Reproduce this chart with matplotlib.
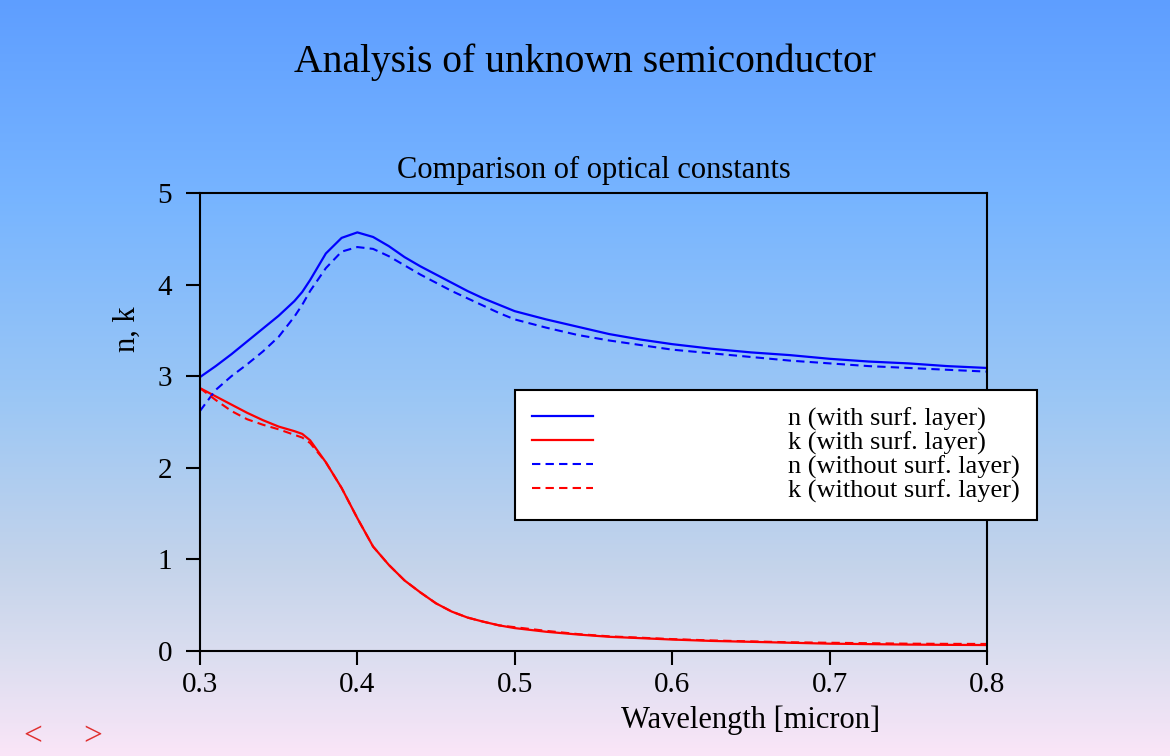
import numpy as np
import matplotlib
matplotlib.use('Agg')
import matplotlib.pyplot as plt
from matplotlib.colors import LinearSegmentedColormap

plt.rcParams['font.family'] = ['Liberation Serif', 'DejaVu Serif']

# wavelength grid [micron]
wavelength = [0.30, 0.31, 0.32, 0.33, 0.34, 0.35, 0.36, 0.365, 0.37, 0.38, 0.39,
              0.40, 0.41, 0.42, 0.43, 0.44, 0.45, 0.46, 0.47, 0.48, 0.49, 0.50,
              0.52, 0.54, 0.56, 0.58, 0.60, 0.625, 0.65, 0.675, 0.70, 0.725,
              0.75, 0.775, 0.80]

n_surf = [2.99, 3.11, 3.24, 3.38, 3.52, 3.66, 3.82, 3.92, 4.05, 4.34, 4.51,
          4.57, 4.52, 4.42, 4.30, 4.20, 4.11, 4.02, 3.93, 3.85, 3.78, 3.71,
          3.62, 3.54, 3.46, 3.40, 3.35, 3.30, 3.26, 3.23, 3.19, 3.16,
          3.14, 3.11, 3.09]
k_surf = [2.87, 2.78, 2.69, 2.60, 2.52, 2.45, 2.40, 2.37, 2.30, 2.06, 1.78,
          1.45, 1.14, 0.94, 0.77, 0.64, 0.52, 0.43, 0.365, 0.32, 0.28, 0.25,
          0.21, 0.18, 0.155, 0.14, 0.125, 0.11, 0.10, 0.09, 0.08, 0.075,
          0.07, 0.067, 0.065]
n_bare = [2.62, 2.85, 3.00, 3.13, 3.27, 3.43, 3.65, 3.78, 3.93, 4.18, 4.36,
          4.41, 4.39, 4.31, 4.21, 4.11, 4.02, 3.93, 3.85, 3.77, 3.69, 3.62,
          3.53, 3.45, 3.39, 3.34, 3.29, 3.25, 3.21, 3.17, 3.14, 3.11,
          3.09, 3.07, 3.05]
k_bare = [2.87, 2.74, 2.62, 2.53, 2.47, 2.42, 2.36, 2.33, 2.27, 2.06, 1.78,
          1.45, 1.14, 0.94, 0.77, 0.64, 0.52, 0.43, 0.365, 0.32, 0.28, 0.26,
          0.22, 0.185, 0.16, 0.145, 0.13, 0.115, 0.105, 0.095, 0.09, 0.085,
          0.08, 0.078, 0.077]

fig = plt.figure(figsize=(11.7, 7.56), dpi=100)

# gradient background, blue at top to pale pink at bottom
bg = fig.add_axes([0, 0, 1, 1], zorder=-10)
bg_cmap = LinearSegmentedColormap.from_list('bg', [
    (0.00, (0.37, 0.62, 1.00)),
    (0.27, (0.47, 0.71, 1.00)),
    (0.53, (0.61, 0.78, 0.96)),
    (0.75, (0.77, 0.83, 0.92)),
    (0.87, (0.86, 0.87, 0.94)),
    (1.00, (0.98, 0.90, 0.97)),
])
bg.imshow(np.linspace(0, 1, 256).reshape(-1, 1), aspect='auto', cmap=bg_cmap,
          extent=[0, 1, 0, 1])
bg.axis('off')

ax = fig.add_axes([0.1709, 0.1389, 0.6726, 0.6058])
ax.set_facecolor('none')

ax.plot(wavelength, n_surf, color='#0000ff', lw=1.6, label='n (with surf. layer)')
ax.plot(wavelength, k_surf, color='#ff0000', lw=1.6, label='k (with surf. layer)')
ax.plot(wavelength, n_bare, color='#0000ff', lw=1.5, ls=(0, (4, 2.5)),
        label='n (without surf. layer)')
ax.plot(wavelength, k_bare, color='#ff0000', lw=1.5, ls=(0, (4, 2.5)),
        label='k (without surf. layer)')

ax.set_xlim(0.3, 0.8)
ax.set_ylim(0, 5)
ax.set_xticks([0.3, 0.4, 0.5, 0.6, 0.7, 0.8])
ax.set_yticks([0, 1, 2, 3, 4, 5])
ax.tick_params(axis='both', direction='out', length=10, width=1.5, labelsize=21)
ax.tick_params(axis='x', pad=5)
ax.tick_params(axis='y', pad=10)
for sp in ax.spines.values():
    sp.set_linewidth(1.5)

ax.set_title('Comparison of optical constants', fontsize=22, pad=11)
ax.set_xlabel('Wavelength [micron]', fontsize=22)
ax.xaxis.set_label_coords(0.70, -0.12)
ax.set_ylabel('n, k', fontsize=22)
ax.yaxis.set_label_coords(-0.074, 0.703)

leg = ax.legend(loc='upper left', bbox_to_anchor=(515 / 1170, 1 - 390 / 756),
                bbox_transform=fig.transFigure, borderaxespad=0, fontsize=19,
                handlelength=2.31, handletextpad=7.4, labelspacing=0.0,
                borderpad=0.65, fancybox=False, framealpha=1)
leg.get_frame().set_edgecolor('black')
leg.get_frame().set_linewidth(1.5)

fig.suptitle('Analysis of unknown semiconductor', fontsize=28.5, y=0.943)

# page navigation arrows, bottom left
fig.text(0.028, 0.014, '<', color='#e03030', fontsize=24, ha='center')
fig.text(0.079, 0.014, '>', color='#e03030', fontsize=24, ha='center')

fig.savefig('out.png', dpi=100)
